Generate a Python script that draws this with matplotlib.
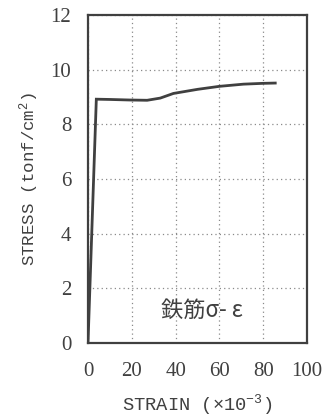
import matplotlib
matplotlib.use("Agg")
import matplotlib.pyplot as plt

# Rebar stress-strain curve
strain = [0, 3.8, 10, 19, 27, 33, 39, 50, 60, 71, 80, 85.5]
stress = [0, 8.92, 8.91, 8.89, 8.88, 8.96, 9.13, 9.28, 9.39, 9.47, 9.50, 9.51]

x_ticks = [0, 20, 40, 60, 80, 100]
y_ticks = [0, 2, 4, 6, 8, 10, 12]

plt.rcParams["mathtext.fontset"] = "custom"
plt.rcParams["mathtext.rm"] = "Liberation Mono"
plt.rcParams["mathtext.it"] = "Liberation Mono"

ink = "#404040"
fig = plt.figure(figsize=(3.29, 4.19), dpi=100)
ax = fig.add_axes([88 / 329, 1 - 343 / 419, (307 - 88) / 329, (343 - 15) / 419])

ax.plot(strain, stress, color="#404040", lw=2.0, solid_joinstyle="miter")

ax.set_xlim(0, 100)
ax.set_ylim(0, 12)
ax.set_xticks(x_ticks)
ax.set_yticks(y_ticks)
ax.grid(True, color="#8a8a8a", linestyle=(0, (1, 2.5)), linewidth=0.9)
ax.tick_params(axis="x", length=0, labelsize=15, colors=ink, pad=14)
ax.tick_params(axis="y", length=0, labelsize=15, colors=ink, pad=12)
for lab in ax.get_xticklabels() + ax.get_yticklabels():
    lab.set_family("Liberation Serif")
for sp in ax.spines.values():
    sp.set_color("#404040")
    sp.set_linewidth(1.6)

ax.set_xlabel(r"STRAIN (×10$^{-3}$)", family="Liberation Mono", fontsize=13.5,
              color=ink, labelpad=8)
ax.set_ylabel(r"STRESS (tonf/cm$^{2}$)", family="Liberation Mono", fontsize=12.5,
              color=ink, labelpad=7)

ax.text(52, 1.2, "鉄筋σ- ε", family=["Noto Sans CJK JP", "DejaVu Sans"],
        fontsize=16, color=ink, ha="center", va="center")

fig.savefig("out.png", dpi=100)
